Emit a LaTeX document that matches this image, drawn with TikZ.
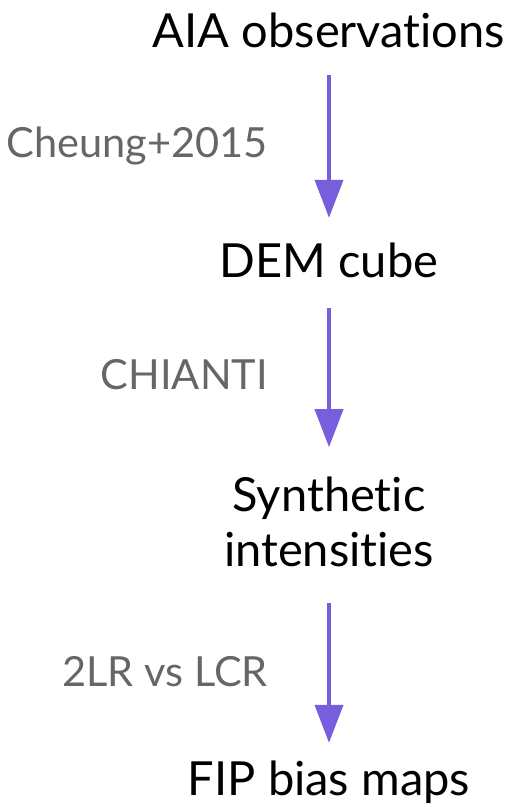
\documentclass[tikz,border=0pt]{standalone}
\usepackage{fontspec}
\setmainfont{Lato}[Ligatures={NoCommon,NoDiscretionary,NoRare}]
\usetikzlibrary{arrows.meta}
\definecolor{flowpurple}{RGB}{120,94,220}
\definecolor{notegray}{RGB}{102,102,102}
\begin{document}
\begin{tikzpicture}[x=1pt,y=-1pt,
  stagetext/.style={inner sep=0pt,font=\fontsize{47}{55}\selectfont,text=black,
    align=center,anchor=base},
  stage/.style={stagetext,text height=32pt,text depth=9pt},
  note/.style={inner sep=0pt,font=\fontsize{41.5}{46}\selectfont,text=notegray,anchor=base east},
  flow/.style={draw=flowpurple,line width=4pt,
    -{Triangle[length=38pt,width=28pt,fill=flowpurple]}}]
  \useasboundingbox (0,0) rectangle (512,807);
  % pipeline stages
  \node[stage] (aia) at (329,47) {AIA observations};
  \node[stage] (dem) at (329,277) {DEM cube};
  \node[stagetext] (syn) at (329,566) {Synthetic\\intensities};
  \node[stage] (fip) at (329,795) {FIP bias maps};
  % methods along each step
  \node[note] (m1) at (268,157) {Cheung+2015};
  \node[note] (m2) at (268,389) {CHIANTI};
  \node[note] (m3) at (268,686) {2LR vs LCR};
  % arrows between stages
  \draw[flow,shorten <=19pt,shorten >=27pt] (aia.south) -- (dem.north);
  \draw[flow,shorten <=22pt,shorten >=29pt] (dem.south) -- (syn.north);
  \draw[flow,shorten <=36pt,shorten >=20pt] (syn.south) -- (fip.north);
\end{tikzpicture}
\end{document}
